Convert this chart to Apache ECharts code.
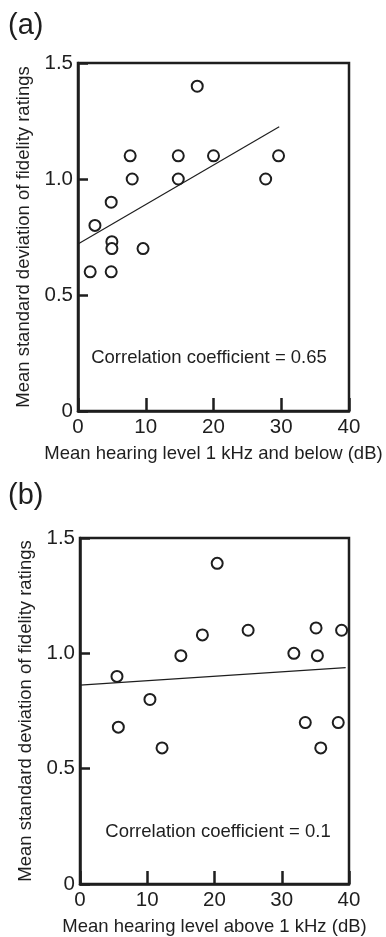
<!DOCTYPE html>
<html>
<head>
<meta charset="utf-8">
<script src="https://cdn.jsdelivr.net/npm/echarts@6/dist/echarts.min.js"></script>
<style>
  html, body { margin: 0; padding: 0; background: #fff; }
  #chart { width: 386px; height: 937px; }
</style>
</head>
<body>
<div id="chart"></div>
<script>
// panel (a): mean hearing level 1 kHz and below
var levelLow = [17.6, 7.7, 8.0, 14.8, 14.8, 20.0, 29.6, 27.7, 4.9, 2.5, 5.0, 5.0, 9.6, 1.8, 4.9];
var sdLow    = [1.40, 1.10, 1.00, 1.10, 1.00, 1.10, 1.10, 1.00, 0.90, 0.80, 0.73, 0.70, 0.70, 0.60, 0.60];
var fitLowX  = [0, 29.7];
var fitLowY  = [0.72, 1.225];

// panel (b): mean hearing level above 1 kHz
var levelHigh = [20.4, 18.2, 25.0, 35.1, 38.9, 31.8, 35.3, 15.0, 5.5, 10.4, 5.7, 12.2, 33.5, 38.4, 35.8];
var sdHigh    = [1.39, 1.08, 1.10, 1.11, 1.10, 1.00, 0.99, 0.99, 0.90, 0.80, 0.68, 0.59, 0.70, 0.70, 0.59];
var fitHighX  = [0, 39.5];
var fitHighY  = [0.862, 0.938];

var xTicks = [0, 10, 20, 30, 40];
var yTicks = [0, 0.5, 1.0, 1.5];

var ink = '#1e1e1e';
var font = '"Liberation Sans", Arial, Helvetica, sans-serif';

function pairs(xs, ys) {
    return xs.map(function (x, i) { return [x, ys[i]]; });
}

function xAxis(idx, name) {
    return {
        gridIndex: idx,
        type: 'value',
        min: xTicks[0],
        max: xTicks[xTicks.length - 1],
        interval: 10,
        name: name,
        nameLocation: 'middle',
        nameGap: 33,
        nameTextStyle: { color: ink, fontSize: 18.5, fontFamily: font },
        axisLine: { show: true, lineStyle: { color: ink, width: 2.5 } },
        axisTick: { show: true, inside: true, length: 13, lineStyle: { color: ink, width: 2.5 } },
        axisLabel: { color: ink, fontSize: 20.5, fontFamily: font, margin: 6 },
        splitLine: { show: false }
    };
}

function yAxis(idx) {
    return {
        gridIndex: idx,
        type: 'value',
        min: yTicks[0],
        max: yTicks[yTicks.length - 1],
        interval: 0.5,
        name: 'Mean standard deviation of fidelity ratings',
        nameLocation: 'middle',
        nameGap: 37,
        nameTextStyle: { color: ink, fontSize: 18.5, fontFamily: font },
        axisLine: { show: true, lineStyle: { color: ink, width: 2.5 } },
        axisTick: { show: true, inside: true, length: 10, lineStyle: { color: ink, width: 2.5 } },
        axisLabel: {
            color: ink, fontSize: 20.5, fontFamily: font, margin: 5,
            formatter: function (v) { return v === 0 ? '0' : v.toFixed(1); }
        },
        splitLine: { show: false }
    };
}

function dots(idx, xs, ys) {
    return {
        type: 'scatter',
        xAxisIndex: idx,
        yAxisIndex: idx,
        data: pairs(xs, ys),
        symbol: 'circle',
        symbolSize: 11,
        itemStyle: { color: '#fff', borderColor: ink, borderWidth: 2, opacity: 1 },
        z: 3
    };
}

function fit(idx, xs, ys) {
    return {
        type: 'line',
        xAxisIndex: idx,
        yAxisIndex: idx,
        data: pairs(xs, ys),
        showSymbol: false,
        silent: true,
        lineStyle: { color: ink, width: 1.2 },
        z: 2
    };
}

var chart = echarts.init(document.getElementById('chart'));
var option = {
    animation: false,
    backgroundColor: '#fff',
    grid: [
        { left: 78, top: 63, width: 271, height: 348, show: true, borderColor: ink, borderWidth: 2.5, backgroundColor: 'transparent' },
        { left: 80, top: 538, width: 269, height: 348, show: true, borderColor: ink, borderWidth: 2.5, backgroundColor: 'transparent' }
    ],
    xAxis: [
        xAxis(0, 'Mean hearing level 1 kHz and below (dB)'),
        xAxis(1, 'Mean hearing level above 1 kHz (dB)')
    ],
    yAxis: [yAxis(0), yAxis(1)],
    series: [
        fit(0, fitLowX, fitLowY),
        dots(0, levelLow, sdLow),
        fit(1, fitHighX, fitHighY),
        dots(1, levelHigh, sdHigh)
    ],
    graphic: [
        { type: 'text', x: 8, y: 26, style: { text: '(a)', fill: ink, font: '29px ' + font, verticalAlign: 'middle' } },
        { type: 'text', x: 8, y: 496, style: { text: '(b)', fill: ink, font: '29px ' + font, verticalAlign: 'middle' } },
        { type: 'text', x: 209, y: 358, style: { text: 'Correlation coefficient = 0.65', fill: ink, font: '18.5px ' + font, align: 'center', verticalAlign: 'middle' } },
        { type: 'text', x: 218, y: 832, style: { text: 'Correlation coefficient = 0.1', fill: ink, font: '18.5px ' + font, align: 'center', verticalAlign: 'middle' } }
    ]
};
chart.setOption(option);
</script>
</body>
</html>
